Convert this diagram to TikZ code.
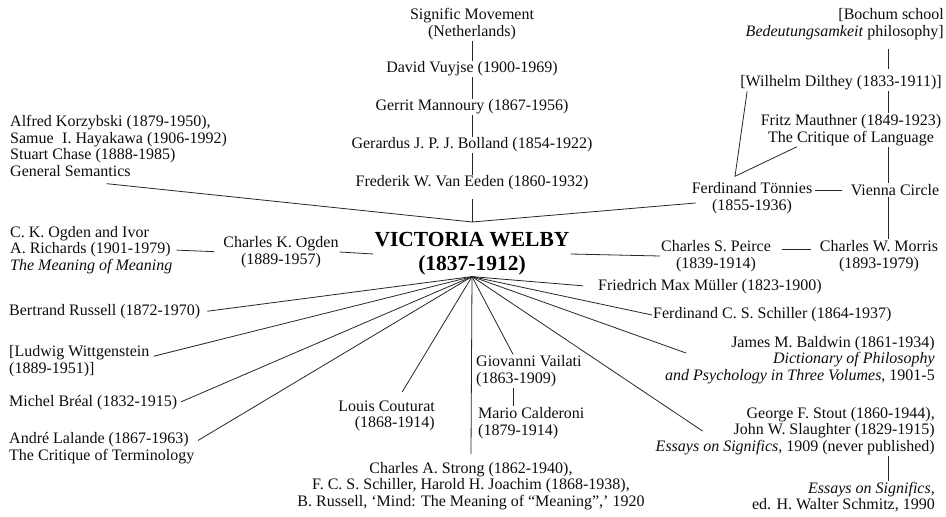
\documentclass[tikz,border=0pt]{standalone}
\usepackage{fontspec}
\setmainfont{Liberation Serif}
\begin{document}
\begin{tikzpicture}[x=1pt,y=-1pt,
  nm/.style={inner sep=1pt,font=\fontsize{16}{16.5}\selectfont,align=center,text=black!95},
  ln/.style={draw=black!85,line width=0.8pt}]
  \useasboundingbox (0,0) rectangle (946,517);
  % centre
  \node[inner sep=1pt,font=\fontsize{21.5}{24}\bfseries,align=center] (welby) at (472,254) {VICTORIA WELBY\\(1837-1912)};
  \coordinate (top) at (472,222);
  \coordinate (rcol) at (888,0); \coordinate (vcol) at (513,0);
  % signific chain
  \node[nm] (signific) at (472,24) {Signific Movement\\(Netherlands)};
  \node[nm] (vuyjse) at (472,69) {David Vuyjse (1900-1969)};
  \node[nm] (mannoury) at (472,107) {Gerrit Mannoury (1867-1956)};
  \node[nm] (bolland) at (472,145) {Gerardus J. P. J. Bolland (1854-1922)};
  \node[nm] (eeden) at (472,183) {Frederik W. Van Eeden (1860-1932)};
  % left side
  \node[nm,align=left,anchor=west] (korz) at (9,146) {Alfred Korzybski (1879-1950),\\Samue\phantom{l} I. Hayakawa (1906-1992)\\Stuart Chase (1888-1985)\\General Semantics};
  \node[nm,align=left,anchor=west] (richards) at (9,250) {C. K. Ogden and Ivor\\A. Richards (1901-1979)\\\textit{The Meaning of Meaning}};
  \node[nm] (ogden) at (281,252) {Charles K. Ogden\\(1889-1957)};
  \node[nm,align=left,anchor=west] (russell) at (8,312) {Bertrand Russell (1872-1970)};
  \node[nm,align=left,anchor=west] (witt) at (8,361) {[Ludwig Wittgenstein\\(1889-1951)]};
  \node[nm,align=left,anchor=west] (breal) at (8,403) {Michel Bréal (1832-1915)};
  \node[nm,align=left,anchor=west] (lalande) at (8,448) {André Lalande (1867-1963)\\The Critique of Terminology};
  % bottom
  \node[nm,align=right,anchor=east] (couturat) at (436,416) {Louis Couturat\\(1868-1914)};
  \node[nm] (strong) at (471,486) {Charles A. Strong (1862-1940),\\F. C. S. Schiller, Harold H. Joachim (1868-1938),\\B. Russell, ‘Mind: The Meaning of “Meaning”,’ 1920};
  \node[nm,align=left,anchor=west] (vailati) at (475,371) {Giovanni Vailati\\(1863-1909)};
  \node[nm,align=left,anchor=west] (calderoni) at (477,423) {Mario Calderoni\\(1879-1914)};
  % right side
  \node[nm,align=left,anchor=west] (muller) at (597,287) {Friedrich Max Müller (1823-1900)};
  \node[nm,align=left,anchor=west] (schiller) at (652,315) {Ferdinand C. S. Schiller (1864-1937)};
  \node[nm,align=right,anchor=east] (baldwin) at (936,360) {James M. Baldwin (1861-1934)\\\textit{Dictionary of Philosophy}\\\textit{and Psychology in Three Volumes}, 1901-5};
  \node[nm,align=right,anchor=east] (stout) at (936,431) {George F. Stout (1860-1944),\\John W. Slaughter (1829-1915)\\\textit{Essays on Significs}, 1909 (never published)};
  \node[nm,align=right,anchor=east] (essays) at (936,497) {\textit{Essays on Significs},\\ed. H. Walter Schmitz, 1990};
  \node[nm] (peirce) at (716,256) {Charles S. Peirce\\(1839-1914)};
  \node[nm] (morris) at (879,256) {Charles W. Morris\\(1893-1979)};
  \node[nm] (tonnies) at (752,198) {Ferdinand Tönnies\\(1855-1936)};
  \node[nm] (vienna) at (895,190) {Vienna Circle};
  \node[nm] (mauthner) at (851,130) {Fritz Mauthner (1849-1923)\\The Critique of Language};
  \node[nm] (dilthey) at (841,83) {[Wilhelm Dilthey (1833-1911)]};
  \node[nm,align=right,anchor=east] (bochum) at (945,24) {[Bochum school\\\textit{Bedeutungsamkeit} philosophy]};
  % connectors above
  \draw[ln](signific)--(vuyjse); \draw[ln](vuyjse)--(mannoury); \draw[ln](mannoury)--(bolland);
  \draw[ln](bolland)--(eeden); \draw[ln,shorten <=8pt](eeden)--(top);
  \draw[ln]([xshift=-12pt,yshift=-6pt]korz.south)--(top); \draw[ln]([xshift=5pt,yshift=-5pt]tonnies.west)--(top);
  \draw[ln,shorten <=3pt,shorten >=8pt](richards.east)--(ogden.west); \draw[ln](ogden.east)--(welby.west);
  \draw[ln](welby.east)--(peirce.west);
  % fan below
  \draw[ln,shorten >=6pt](welby.south)--(russell.east);
  \draw[ln,shorten >=3pt](welby.south)--([yshift=4pt]witt.east);
  \draw[ln,shorten >=3pt](welby.south)--(breal.east);
  \draw[ln,shorten >=3pt](welby.south)--([yshift=6pt]lalande.east);
  \draw[ln,shorten >=9pt](welby.south)--([xshift=11pt]couturat.north);
  \draw[ln](welby.south)--([yshift=7pt]strong.north);
  \draw[ln](welby.south)--(vailati.north -| vcol);
  \draw[ln](vailati.south -| vcol)--(calderoni.north -| vcol);
  \draw[ln,shorten >=14pt](welby.south)--(muller.west);
  \draw[ln](welby.south)--(schiller.west);
  \draw[ln](welby.south)--([xshift=22pt,yshift=7pt]baldwin.west);
  \draw[ln](welby.south)--([xshift=48pt]stout.west);
  \draw[ln](stout.south -| rcol)--(essays.north -| rcol);
  % right column
  \draw[ln,shorten <=8pt,shorten >=6pt](bochum.south -| rcol)--(dilthey.north -| rcol);
  \draw[ln](dilthey.south -| rcol)--(mauthner.north -| rcol);
  \draw[ln](mauthner.south -| rcol)--(vienna.north -| rcol);
  \draw[ln](vienna.south -| rcol)--(morris.north -| rcol);
  \draw[ln]([xshift=8pt]dilthey.south west)--([xshift=-17pt,yshift=5pt]tonnies.north)--([xshift=-54pt]mauthner.south);
  \draw[ln,shorten <=2pt,shorten >=8pt]([yshift=8pt]tonnies.east)--(vienna.west);
  \draw[ln,shorten <=10pt,shorten >=8pt]([yshift=7pt]peirce.east)--([yshift=7pt]morris.west);
\end{tikzpicture}
\end{document}
